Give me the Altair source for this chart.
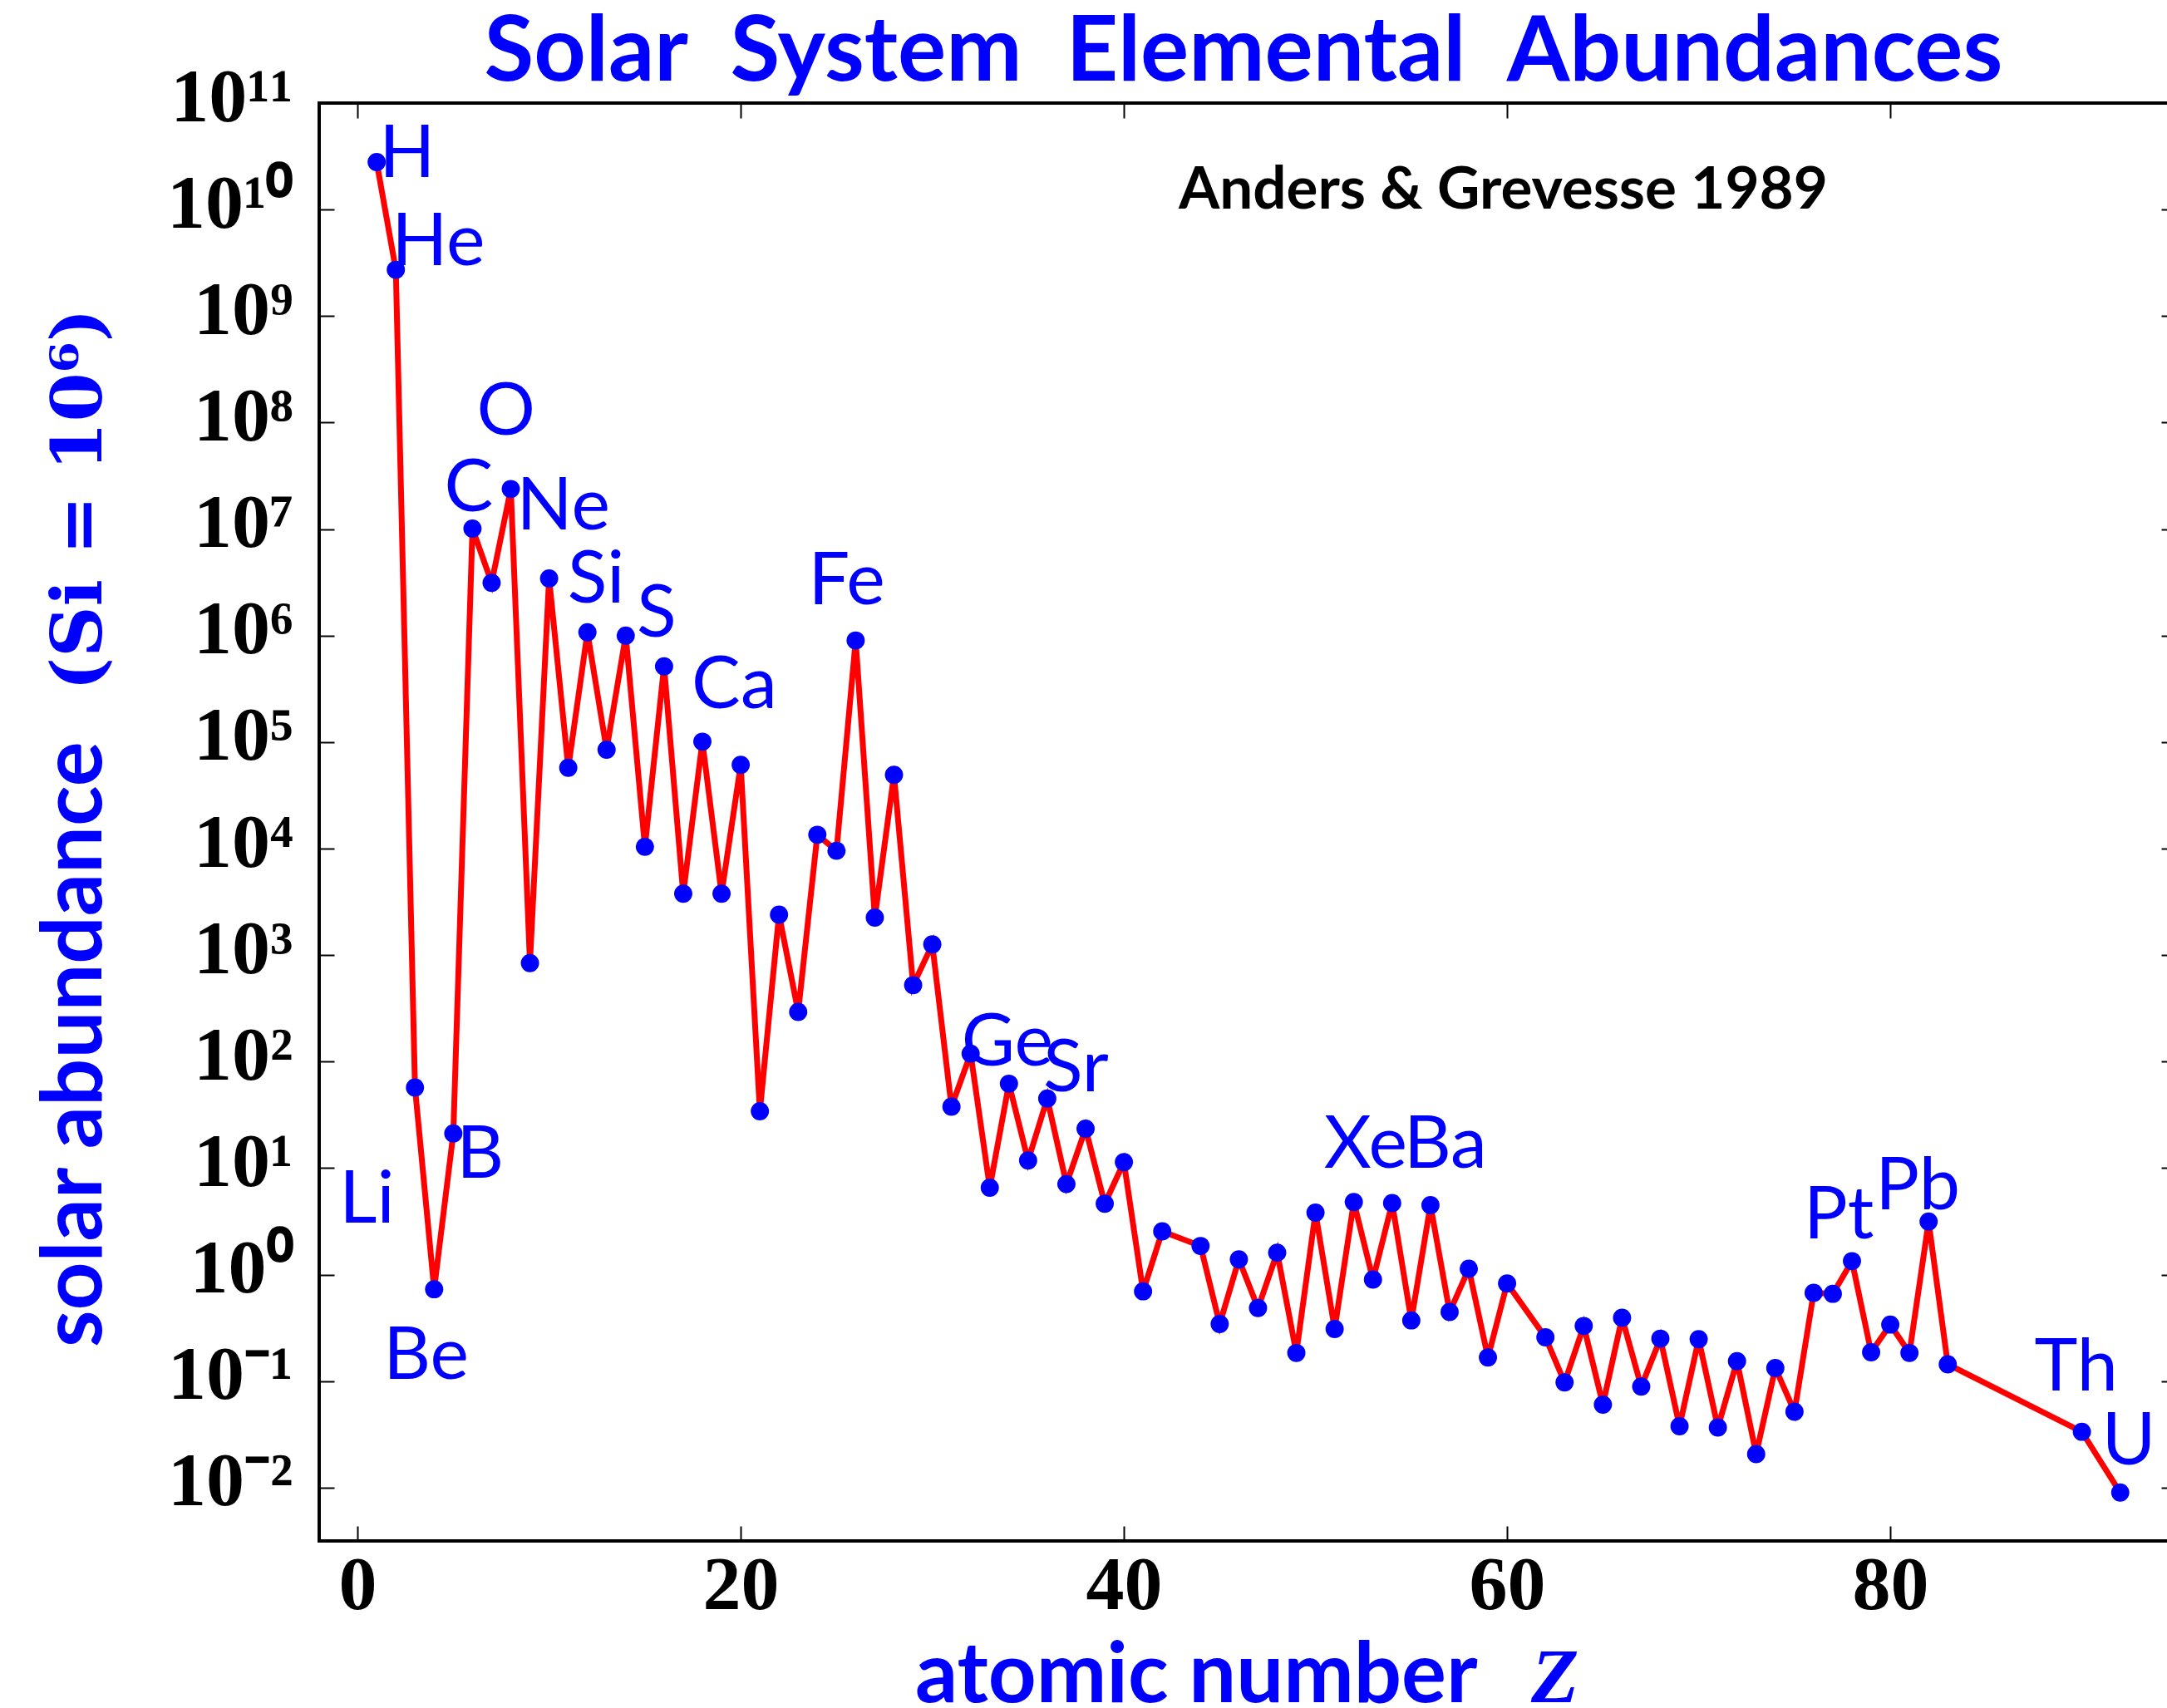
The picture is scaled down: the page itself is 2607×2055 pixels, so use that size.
import altair as alt
import pandas as pd

# Solar-system elemental abundances (Anders & Grevesse 1989), normalised to Si = 1e6
Z = [1, 2, 3, 4, 5, 6, 7, 8, 9, 10, 11, 12, 13, 14, 15, 16, 17, 18, 19, 20,
     21, 22, 23, 24, 25, 26, 27, 28, 29, 30, 31, 32, 33, 34, 35, 36, 37, 38, 39, 40,
     41, 42, 44, 45, 46, 47, 48, 49, 50, 51, 52, 53, 54, 55, 56, 57, 58, 59, 60,
     62, 63, 64, 65, 66, 67, 68, 69, 70, 71, 72, 73, 74, 75, 76, 77, 78, 79, 80,
     81, 82, 83, 90, 92]
SYMBOL = ["H", "He", "Li", "Be", "B", "C", "N", "O", "F", "Ne", "Na", "Mg", "Al", "Si",
          "P", "S", "Cl", "Ar", "K", "Ca", "Sc", "Ti", "V", "Cr", "Mn", "Fe", "Co", "Ni",
          "Cu", "Zn", "Ga", "Ge", "As", "Se", "Br", "Kr", "Rb", "Sr", "Y", "Zr", "Nb",
          "Mo", "Ru", "Rh", "Pd", "Ag", "Cd", "In", "Sn", "Sb", "Te", "I", "Xe", "Cs",
          "Ba", "La", "Ce", "Pr", "Nd", "Sm", "Eu", "Gd", "Tb", "Dy", "Ho", "Er", "Tm",
          "Yb", "Lu", "Hf", "Ta", "W", "Re", "Os", "Ir", "Pt", "Au", "Hg", "Tl", "Pb",
          "Bi", "Th", "U"]
ABUNDANCE = [2.79e10, 2.72e9, 57.1, 0.73, 21.2, 1.01e7, 3.13e6, 2.38e7, 843, 3.44e6,
             5.74e4, 1.074e6, 8.49e4, 1.00e6, 1.04e4, 5.15e5, 3770, 1.01e5, 3770, 6.11e4,
             34.2, 2400, 293, 1.35e4, 9550, 9.00e5, 2250, 4.93e4, 522, 1260,
             37.8, 119, 6.56, 62.1, 11.8, 45.0, 7.09, 23.5, 4.64, 11.4,
             0.698, 2.55, 1.86, 0.344, 1.39, 0.486, 1.61, 0.184, 3.82, 0.309,
             4.81, 0.90, 4.70, 0.372, 4.49, 0.446, 1.136, 0.1669, 0.8279,
             0.2582, 0.0973, 0.330, 0.0603, 0.3942, 0.0889, 0.2508, 0.0378, 0.2479, 0.0367,
             0.154, 0.0207, 0.133, 0.0517, 0.675, 0.661, 1.34, 0.187, 0.34,
             0.184, 3.15, 0.144, 0.0335, 0.0090]

LABELLED = ["H", "He", "Li", "Be", "B", "C", "O", "Ne", "Si", "S", "Ca", "Fe",
            "Ge", "Sr", "Xe", "Ba", "Pt", "Pb", "Th", "U"]

X_TICKS = [0, 20, 40, 60, 80]
Y_EXPONENTS = list(range(-2, 12))
SUP = str.maketrans("-0123456789", "\u207b\u2070\u00b9\u00b2\u00b3\u2074\u2075\u2076\u2077\u2078\u2079")
Y_TICK_LABELS = ["10" + str(e).translate(SUP) for e in Y_EXPONENTS]
Y_TICKS = [10.0 ** e for e in Y_EXPONENTS]

GAP = " \u00a0"
TITLE = GAP.join(["Solar", "System", "Elemental", "Abundances"])
SOURCE = "Anders & Grevesse 1989"
X_TITLE = "atomic number"
X_TITLE_SYMBOL = "Z"
Y_TITLE = "solar abundance"
Y_TITLE_UNIT = "(Si = 10\u2076)"

df = pd.DataFrame({"Z": Z, "symbol": SYMBOL, "abundance": ABUNDANCE})
one = pd.DataFrame({"k": [0]})

# ---- styling -------------------------------------------------------------
BLUE = "#0000ff"
RED = "#ff0000"
SANS = "Lato"
SERIF = "Liberation Serif"
W, H = 2223, 1730
PX_PER_Z = 23.05
TICK = 18
TICK_FONT = 92

# label placement relative to its point (pixels)
LABEL_OFFSET = {
    "H": (3, 18), "He": (-5, -6), "Li": (-91, 162), "Be": (-61, 108),
    "B": (4, 53), "C": (-34, -21), "O": (-41, -65), "Ne": (-39, -59),
    "Si": (-70, -40), "S": (-33, -36), "Ca": (-59, -68), "Fe": (-57, -44),
    "Ge": (-11, 14), "Sr": (-51, -45), "Xe": (-82, -43), "Ba": (-32, -45),
    "Pt": (-58, -27), "Pb": (-64, -15), "Th": (-57, -50), "U": (-22, -34),
}

xscale = alt.Scale(domain=[-2, -2 + W / PX_PER_Z], nice=False, zero=False)
yscale = alt.Scale(type="log", domain=[10 ** -2.5, 1e11], nice=False)

tick_style = dict(tickSize=TICK, tickWidth=2, tickColor="black", domain=False,
                  grid=False, title=None, offset=-TICK)

bottom_axis = alt.Axis(values=X_TICKS, orient="bottom", labelFont=SERIF,
                       labelFontWeight="bold", labelFontSize=TICK_FONT,
                       labelColor="black", labelBaseline="alphabetic",
                       labelPadding=81, labelFlush=False, **tick_style)
top_axis = alt.Axis(values=X_TICKS, orient="top", labels=False, **tick_style)
left_axis = alt.Axis(values=Y_TICKS, orient="left", labelFont=SERIF,
                     labelFontWeight="bold", labelFontSize=TICK_FONT,
                     labelColor="black", labelAlign="right",
                     labelBaseline="alphabetic", labelOffset=21,
                     labelPadding=32, labelFlush=False,
                     labelExpr=f"{Y_TICK_LABELS}[round(log(datum.value) / LN10) + 2]",
                     **tick_style)
right_axis = alt.Axis(values=Y_TICKS, orient="right", labels=False, tickSize=7,
                      tickWidth=2, tickColor="black", domain=False, grid=False,
                      title=None, offset=-7)

line = alt.Chart(df).mark_line(color=RED, strokeWidth=7).encode(
    x=alt.X("Z:Q", scale=xscale, axis=bottom_axis),
    y=alt.Y("abundance:Q", scale=yscale, axis=left_axis),
)

points = alt.Chart(df).mark_circle(color=BLUE, size=480, opacity=1).encode(
    x=alt.X("Z:Q", scale=xscale, axis=top_axis),
    y=alt.Y("abundance:Q", scale=yscale, axis=right_axis),
)

labels = []
for sym in LABELLED:
    dx, dy = LABEL_OFFSET[sym]
    labels.append(
        alt.Chart(df).transform_filter(alt.datum.symbol == sym)
        .mark_text(align="left", baseline="alphabetic", dx=dx, dy=dy,
                   font=SANS, fontSize=88, color=BLUE)
        .encode(x=alt.X("Z:Q", scale=xscale, axis=None),
                y=alt.Y("abundance:Q", scale=yscale, axis=None),
                text="symbol:N")
    )


def fixed_text(text, x, y, **style):
    return alt.Chart(one).mark_text(text=text, **style).encode(
        x=alt.value(x), y=alt.value(y))


def frame_rule(**enc):
    return alt.Chart(one).mark_rule(color="black", strokeWidth=4,
                                    strokeCap="square").encode(**enc)


spines = [
    frame_rule(x=alt.value(0), y=alt.value(0), y2=alt.value(H)),
    frame_rule(x=alt.value(0), x2=alt.value(W), y=alt.value(0)),
    frame_rule(x=alt.value(0), x2=alt.value(W), y=alt.value(H)),
]

texts = [
    fixed_text(TITLE, 1112, -27, align="center", baseline="alphabetic",
               font=SANS, fontWeight="bold", fontSize=109, color=BLUE),
    fixed_text(SOURCE, 1034, 127, align="left", baseline="alphabetic",
               font=SANS, fontWeight="bold", fontSize=71, color="black"),
    fixed_text(X_TITLE, 717, 1924, align="left", baseline="alphabetic",
               font=SANS, fontWeight="bold", fontSize=101, color=BLUE),
    fixed_text(X_TITLE_SYMBOL, 1458, 1924, align="left", baseline="alphabetic",
               font=SERIF, fontWeight="bold", fontStyle="italic", fontSize=94,
               color=BLUE),
    fixed_text(Y_TITLE, -262, 1497, align="left", baseline="alphabetic",
               angle=270, font=SANS, fontWeight="bold", fontSize=101, color=BLUE),
    fixed_text(Y_TITLE_UNIT, -262, 707, align="left", baseline="alphabetic",
               angle=270, font="DejaVu Serif", fontWeight="bold", fontSize=85,
               color=BLUE),
]

chart = (
    alt.layer(line, points, *labels, *spines, *texts)
    .resolve_axis(x="independent", y="independent")
    .properties(width=W, height=H,
                padding={"left": 384, "top": 124, "right": 0, "bottom": 201},
                autosize=alt.AutoSizeParams(type="none"),
                background="white")
    .configure_view(stroke=None)
)

chart.save("out.html", embed_options={"renderer": "svg", "actions": False})
